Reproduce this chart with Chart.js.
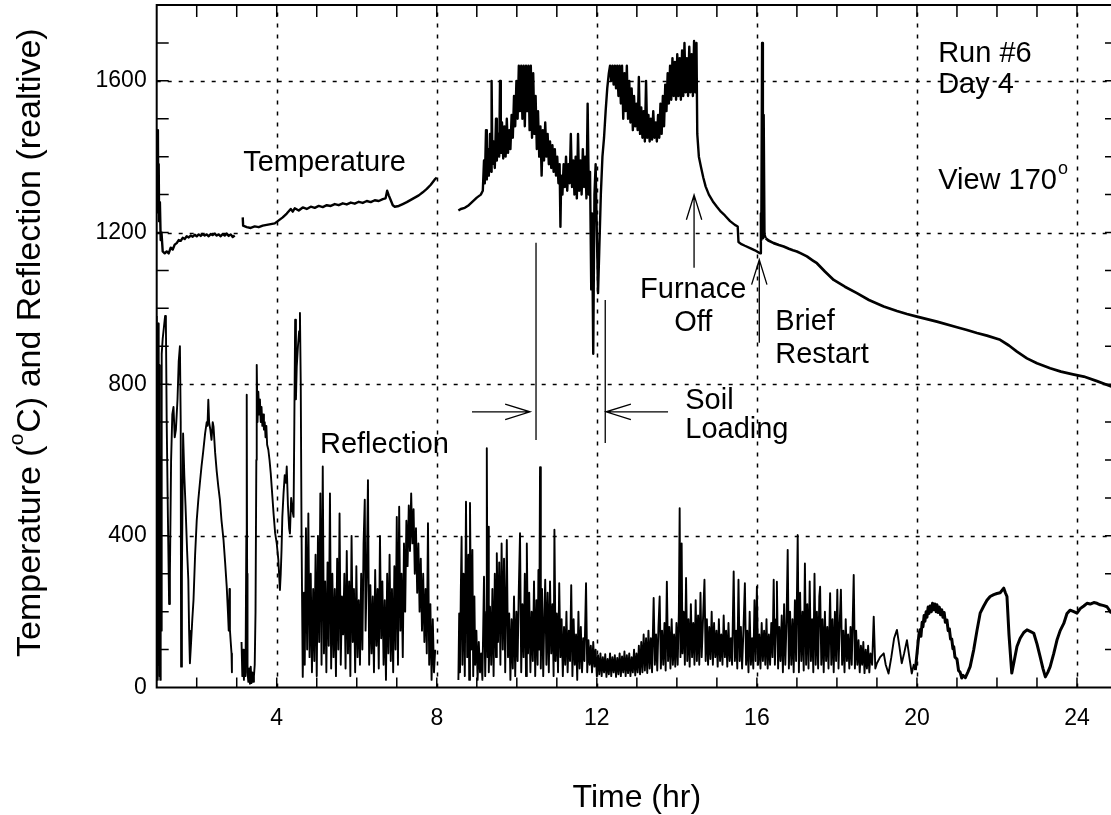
<!DOCTYPE html>
<html>
<head>
<meta charset="utf-8">
<script src="https://cdn.jsdelivr.net/npm/chart.js@4.4.0/dist/chart.umd.min.js"></script>
<style>
  html, body { margin: 0; padding: 0; background: #fff; overflow: hidden; }
  #wrap { width: 1125px; height: 815px; }
</style>
</head>
<body>
<div id="wrap"><canvas id="chart" width="1125" height="815"></canvas></div>
<script>
// Temperature trace, [hour, value] pairs
var tempSeg1 = [[1.00,1250],[1.02,1300],[1.03,1470],[1.04,1260],[1.05,1380],[1.06,1230],[1.08,1280],[1.10,1180],[1.12,1200],[1.15,1150],
  [1.20,1145],[1.25,1150],[1.30,1145],[1.35,1160],[1.40,1155],[1.45,1168],[1.50,1172],[1.55,1180],[1.60,1178],[1.65,1186],[1.70,1183],
  [1.75,1190],[1.80,1187],[1.85,1192],[1.90,1189],[1.95,1194],[2.00,1190],[2.05,1195],[2.10,1191],[2.15,1196],[2.20,1192],[2.25,1195],
  [2.30,1190],[2.35,1196],[2.40,1193],[2.45,1197],[2.50,1192],[2.55,1195],[2.60,1190],[2.65,1196],[2.70,1192],[2.75,1197],[2.80,1191],
  [2.85,1195],[2.90,1188],[2.95,1192]];

var tempSeg2 = [[3.15,1240],[3.16,1218],[3.25,1214],[3.35,1212],[3.45,1216],[3.55,1214],[3.65,1218],[3.75,1220],[3.85,1222],[3.95,1224],
  [4.05,1232],[4.15,1240],[4.25,1250],[4.35,1262],[4.40,1255],[4.45,1264],[4.55,1258],[4.65,1266],[4.75,1262],[4.85,1268],[4.95,1265],
  [5.05,1270],[5.15,1267],[5.25,1272],[5.35,1270],[5.45,1275],[5.55,1272],[5.65,1277],[5.75,1274],[5.85,1279],[5.95,1276],[6.05,1281],
  [6.15,1278],[6.25,1283],[6.35,1280],[6.45,1285],[6.55,1283],[6.65,1288],[6.72,1290],[6.76,1310],[6.80,1298],[6.85,1285],[6.90,1272],
  [6.95,1268],[7.05,1270],[7.15,1275],[7.25,1280],[7.35,1286],[7.45,1292],[7.55,1298],[7.65,1306],[7.75,1315],[7.85,1326],[7.95,1340],
  [8.00,1345]];

var tempSeg3 = [[8.54,1258],[8.60,1262],[8.70,1265],[8.80,1272],[8.90,1282],[9.00,1292],[9.10,1300],[9.15,1310],
  [9.18,1390],[9.20,1330],[9.23,1470],[9.25,1340],[9.28,1420],[9.30,1350],[9.33,1460],[9.36,1360],[9.37,1600],[9.39,1380],
  [9.42,1440],[9.45,1370],[9.48,1500],[9.50,1390],[9.53,1460],[9.56,1400],[9.58,1600],[9.60,1410],[9.63,1490],[9.66,1395],
  [9.69,1480],[9.72,1400],[9.75,1500],[9.78,1410],[9.81,1470],[9.84,1420],[9.87,1510],[9.90,1450],[9.93,1560],[9.96,1480],
  [9.99,1600],[10.02,1500],[10.05,1640],[10.08,1520],[10.11,1640],[10.14,1500],[10.17,1640],[10.20,1480],[10.23,1640],[10.26,1520],
  [10.29,1640],[10.32,1470],[10.35,1640],[10.38,1450],[10.41,1620],[10.44,1460],[10.47,1560],[10.50,1420],[10.53,1520],[10.56,1400],
  [10.59,1480],[10.62,1350],[10.65,1470],[10.68,1390],[10.71,1490],[10.74,1400],[10.77,1460],[10.80,1380],[10.83,1440],[10.86,1370],
  [10.89,1430],[10.92,1360],[10.95,1420],[10.98,1350],[11.01,1400],[11.04,1330],[11.07,1380],[11.09,1215],[11.11,1350],[11.14,1300],
  [11.17,1380],[11.20,1320],[11.23,1400],[11.26,1310],[11.29,1380],[11.32,1330],[11.35,1460],[11.38,1320],[11.41,1390],[11.44,1300],
  [11.47,1400],[11.50,1290],[11.53,1460],[11.56,1310],[11.59,1390],[11.62,1300],[11.65,1420],[11.68,1320],[11.71,1400],[11.74,1290],
  [11.77,1540],[11.80,1300],[11.83,1360],[11.86,1050],[11.88,1250],[11.91,880],[11.94,1300],[11.97,1380],[12.00,1200],[12.03,1040],
  [12.06,1150],[12.10,1300],[12.14,1400],[12.18,1450],[12.22,1520],[12.26,1580],[12.30,1620],[12.33,1640],[12.36,1600],[12.39,1640],
  [12.42,1590],[12.45,1640],[12.48,1580],[12.51,1640],[12.54,1560],[12.57,1640],[12.60,1540],[12.63,1640],[12.66,1500],[12.69,1620],
  [12.72,1520],[12.75,1640],[12.78,1500],[12.81,1600],[12.84,1490],[12.87,1580],[12.90,1470],[12.93,1560],[12.96,1480],[12.99,1540],
  [13.02,1470],[13.05,1610],[13.08,1460],[13.11,1530],[13.14,1450],[13.17,1520],[13.20,1440],[13.23,1600],[13.26,1450],[13.29,1510],
  [13.32,1440],[13.35,1500],[13.38,1445],[13.41,1520],[13.44,1450],[13.47,1490],[13.50,1440],[13.53,1510],[13.56,1450],[13.59,1540],
  [13.62,1460],[13.65,1560],[13.68,1480],[13.71,1590],[13.74,1520],[13.77,1620],[13.80,1540],[13.83,1640],[13.86,1550],[13.89,1660],
  [13.92,1560],[13.95,1650],[13.98,1550],[14.01,1670],[14.04,1560],[14.07,1660],[14.10,1550],[14.13,1680],[14.16,1560],[14.19,1700],
  [14.22,1570],[14.25,1660],[14.28,1560],[14.31,1690],[14.34,1570],[14.37,1670],[14.40,1560],[14.43,1705],[14.46,1570],[14.49,1700],
  [14.51,1460],[14.55,1400],[14.60,1374],[14.66,1345],[14.72,1321],[14.80,1300],[14.90,1282],[15.00,1268],[15.10,1255],[15.20,1245],
  [15.33,1230],[15.45,1220],[15.52,1216],[15.54,1175],[15.60,1170],[15.70,1165],[15.83,1159],[15.95,1153],[16.05,1147],[16.09,1145],
  [16.10,1250],[16.11,1180],[16.13,1700],[16.15,1185],[16.17,1510],[16.19,1195],[16.22,1185],[16.30,1178],[16.42,1172],[16.55,1167],
  [16.67,1163],[16.80,1157],[16.90,1153],[17.00,1150],[17.10,1145],[17.25,1137],[17.40,1126],[17.50,1119],[17.70,1097],[17.92,1075],
  [18.20,1057],[18.50,1040],[18.80,1022],[19.17,1005],[19.50,993],[19.75,985],[20.00,978],[20.50,965],[21.00,950],[21.25,943],
  [21.50,935],[21.75,928],[22.08,917],[22.30,902],[22.50,886],[22.75,868],[23.00,855],[23.33,842],[23.60,833],[23.90,826],
  [24.17,820],[24.50,808],[24.86,794]];

// Reflection trace, [hour, value] pairs
var reflSeg1 = [[1.00,980],[1.01,40],[1.02,900],[1.03,20],[1.04,960],[1.05,60],[1.06,850],[1.07,30],[1.08,700],[1.09,20],[1.10,600],
  [1.11,150],[1.12,500],[1.13,880],[1.15,920],[1.18,950],[1.21,980],[1.23,960],[1.25,700],[1.28,450],[1.31,220],[1.33,300],[1.36,600],
  [1.39,720],[1.42,740],[1.45,660],[1.48,680],[1.52,760],[1.55,860],[1.58,900],[1.60,700],[1.61,55],[1.63,300],[1.66,670],[1.69,560],
  [1.72,480],[1.76,360],[1.79,284],[1.81,150],[1.83,64],[1.86,120],[1.89,180],[1.92,231],[1.96,350],[2.00,440],[2.04,495],[2.08,540],
  [2.12,583],[2.16,620],[2.21,670],[2.25,700],[2.27,690],[2.29,759],[2.31,700],[2.34,680],[2.37,653],[2.40,700],[2.42,688],[2.46,620],
  [2.50,570],[2.54,530],[2.58,495],[2.62,440],[2.67,389],[2.71,330],[2.75,266],[2.78,200],[2.80,150],[2.82,260],[2.83,152],[2.85,120],
  [2.87,90],[2.88,40]];

var reflSeg2 = [[3.12,120],[3.14,30],[3.16,100],[3.18,20],[3.20,90],[3.22,30],[3.24,400],[3.25,772],[3.26,300],[3.27,40],[3.29,15],
  [3.31,50],[3.33,10],[3.35,55],[3.37,12],[3.39,40],[3.41,15],[3.43,30],[3.45,60],[3.47,200],[3.49,600],[3.50,851],[3.52,700],[3.54,780],
  [3.56,720],[3.58,760],[3.60,700],[3.62,740],[3.64,690],[3.66,720],[3.68,680],[3.70,700],[3.72,660],[3.74,690],[3.76,640],[3.79,627],
  [3.82,600],[3.85,565],[3.88,520],[3.92,460],[3.96,407],[4.00,380],[4.04,337],[4.08,257],[4.10,300],[4.12,363],[4.14,450],[4.17,512],
  [4.20,560],[4.23,540],[4.25,583],[4.28,480],[4.31,420],[4.33,406],[4.36,500],[4.39,470],[4.42,450],[4.44,700],[4.46,970],[4.48,760],
  [4.50,846],[4.53,900],[4.56,940],[4.58,988],[4.60,800],[4.62,406],[4.64,150],[4.65,28],
  [4.68,250],[4.70,60],[4.73,420],[4.76,100],[4.79,459],[4.82,80],[4.85,300],[4.88,40],[4.91,260],[4.94,70],[4.97,350],[5.00,30],
  [5.03,400],[5.06,120],[5.09,512],[5.12,60],[5.15,583],[5.18,90],[5.21,280],[5.24,40],[5.27,330],[5.30,110],[5.33,512],[5.36,50],
  [5.39,300],[5.42,80],[5.45,260],[5.48,30],[5.51,340],[5.54,100],[5.57,459],[5.60,60],[5.63,240],[5.66,140],[5.69,300],[5.72,50],
  [5.75,360],[5.78,90],[5.81,280],[5.84,30],[5.87,400],[5.90,120],[5.93,260],[5.96,40],[5.99,320],[6.02,80],[6.05,230],[6.08,60],
  [6.11,300],[6.14,100],[6.17,380],[6.20,495],[6.22,150],[6.25,300],[6.28,547],[6.31,60],[6.34,270],[6.37,90],[6.40,240],[6.43,40],
  [6.46,310],[6.49,110],[6.52,260],[6.55,50],[6.58,400],[6.61,130],[6.64,280],[6.67,60],[6.70,230],[6.73,20],[6.76,300],[6.79,90],
  [6.82,350],[6.85,70],[6.88,260],[6.91,40],[6.94,320],[6.97,100],[7.00,450],[7.03,60],[7.06,477],[7.09,150],[7.12,300],[7.15,80],
  [7.18,380],[7.21,200],[7.24,440],[7.27,320],[7.30,480],[7.33,360],[7.36,512],[7.39,380],[7.42,470],[7.45,300],[7.48,420],[7.51,250],
  [7.54,380],[7.57,200],[7.60,340],[7.63,150],[7.66,300],[7.69,120],[7.72,260],[7.75,90],[7.78,433],[7.81,60],[7.84,220],[7.87,20],
  [7.90,180],[7.93,40],[7.96,100]];

var reflSeg3 = [[8.54,20],[8.56,195],[8.58,40],[8.60,250],[8.62,398],[8.64,60],[8.67,300],[8.70,30],[8.73,490],[8.76,80],[8.79,350],
  [8.81,20],[8.83,487],[8.86,100],[8.89,363],[8.91,30],[8.94,240],[8.96,60],[8.99,150],[9.02,20],[9.05,120],[9.08,40],[9.11,90],
  [9.14,20],[9.18,292],[9.21,30],[9.24,200],[9.25,631],[9.27,80],[9.28,424],[9.30,40],[9.33,213],[9.36,60],[9.39,260],[9.42,30],
  [9.45,300],[9.48,80],[9.50,354],[9.53,120],[9.56,330],[9.59,60],[9.62,380],[9.65,100],[9.68,340],[9.71,40],[9.75,389],[9.78,80],
  [9.81,195],[9.84,20],[9.87,180],[9.90,50],[9.93,240],[9.96,30],[9.99,200],[10.02,70],[10.05,260],[10.08,407],[10.11,40],[10.14,220],
  [10.17,80],[10.20,300],[10.23,30],[10.25,380],[10.28,90],[10.31,250],[10.34,40],[10.37,200],[10.40,70],[10.43,280],[10.46,30],
  [10.49,230],[10.52,60],[10.54,310],[10.56,100],[10.58,581],[10.60,50],[10.63,260],[10.66,30],[10.69,200],[10.71,284],[10.74,60],
  [10.77,250],[10.80,40],[10.83,280],[10.86,90],[10.89,220],[10.92,30],[10.94,416],[10.97,70],[11.00,195],[11.03,40],[11.06,275],
  [11.09,80],[11.12,180],[11.15,30],[11.18,160],[11.21,60],[11.24,200],[11.27,40],[11.30,150],[11.33,70],[11.36,270],[11.39,30],
  [11.42,180],[11.45,60],[11.48,140],[11.51,20],[11.54,200],[11.57,50],[11.60,160],[11.63,40],[11.66,130],[11.69,70],[11.73,275],
  [11.76,40],[11.79,125],[11.82,60],[11.85,110],[11.88,40],[11.91,120],[11.94,55],[11.97,100],[12.00,30],[12.03,85],[12.06,35],
  [12.09,90],[12.12,30],[12.15,80],[12.18,40],[12.21,88],[12.24,28],[12.27,75],[12.30,35],[12.33,90],[12.36,30],[12.39,80],[12.42,40],
  [12.45,85],[12.48,28],[12.51,78],[12.54,35],[12.57,90],[12.60,30],[12.63,82],[12.66,40],[12.69,95],[12.72,30],[12.75,85],[12.78,38],
  [12.81,90],[12.84,30],[12.87,80],[12.90,40],[12.93,100],[12.96,32],[12.99,90],[13.02,40],[13.05,110],[13.08,35],[13.11,120],
  [13.14,40],[13.17,140],[13.20,45],[13.23,130],[13.26,38],[13.29,150],[13.32,50],[13.35,130],[13.38,40],[13.42,236],[13.45,60],
  [13.48,140],[13.51,45],[13.54,160],[13.57,240],[13.60,50],[13.63,150],[13.66,60],[13.69,170],[13.72,45],[13.75,279],[13.78,70],
  [13.81,160],[13.84,50],[13.87,180],[13.90,60],[13.93,140],[13.96,55],[13.99,170],[14.02,60],[14.05,200],[14.07,473],[14.09,80],
  [14.12,380],[14.14,90],[14.17,200],[14.20,60],[14.23,289],[14.26,70],[14.29,180],[14.32,55],[14.35,220],[14.38,80],[14.41,170],
  [14.44,60],[14.47,230],[14.50,70],[14.53,190],[14.56,60],[14.59,250],[14.62,80],[14.66,200],[14.69,284],[14.72,70],[14.75,180],
  [14.78,60],[14.81,160],[14.84,75],[14.87,200],[14.90,60],[14.93,170],[14.96,80],[14.99,150],[15.02,55],[15.05,180],[15.08,70],
  [15.11,140],[15.14,60],[15.17,190],[15.20,80],[15.23,150],[15.26,55],[15.29,170],[15.32,70],[15.35,130],[15.38,60],[15.42,306],
  [15.45,70],[15.48,150],[15.51,50],[15.54,284],[15.57,70],[15.60,160],[15.63,50],[15.66,140],[15.70,275],[15.73,60],[15.76,150],
  [15.79,40],[15.82,200],[15.85,60],[15.88,130],[15.91,50],[15.94,230],[15.97,70],[16.00,266],[16.03,60],[16.06,140],[16.09,50],
  [16.12,170],[16.15,70],[16.18,150],[16.21,60],[16.24,180],[16.27,50],[16.30,140],[16.33,60],[16.36,170],[16.39,80],[16.42,284],
  [16.45,60],[16.48,180],[16.50,279],[16.53,50],[16.56,160],[16.59,70],[16.62,190],[16.65,40],[16.68,220],[16.71,60],[16.74,170],
  [16.77,363],[16.80,50],[16.83,200],[16.86,60],[16.89,180],[16.92,40],[16.95,230],[16.98,70],[17.02,402],[17.05,40],[17.08,250],
  [17.11,70],[17.14,200],[17.17,45],[17.20,327],[17.23,60],[17.26,220],[17.29,50],[17.32,280],[17.35,70],[17.38,180],[17.41,40],
  [17.44,300],[17.47,60],[17.50,200],[17.53,50],[17.56,240],[17.58,266],[17.61,60],[17.64,180],[17.67,40],[17.70,200],[17.73,70],
  [17.76,160],[17.79,50],[17.83,249],[17.86,60],[17.89,180],[17.92,40],[17.95,200],[17.98,70],[18.01,258],[18.04,50],[18.07,170],
  [18.10,258],[18.13,60],[18.16,150],[18.19,40],[18.22,180],[18.25,70],[18.28,140],[18.31,50],[18.34,160],[18.37,60],[18.42,297],
  [18.45,50],[18.48,150],[18.51,60],[18.54,125],[18.57,40],[18.60,110],[18.63,60],[18.66,120],[18.69,38],[18.72,100],[18.75,50],
  [18.78,110],[18.81,40],[18.84,90],[18.88,60],[18.92,187],[18.96,50],[19.00,64],[19.08,80],[19.17,90],[19.22,60],[19.29,37],
  [19.36,80],[19.43,130],[19.50,152],[19.56,110],[19.62,64],[19.68,90],[19.75,125],[19.81,80],[19.87,37],[19.92,60],[19.96,46],
  [20.02,110],[20.05,140],[20.08,152],[20.10,135],[20.13,172],[20.15,160],[20.18,190],[20.20,175],[20.23,200],[20.25,185],[20.28,212],
  [20.30,195],[20.33,215],[20.36,200],[20.39,222],[20.42,205],[20.45,220],[20.48,200],[20.50,218],[20.53,198],[20.56,212],[20.59,192],
  [20.62,205],[20.65,185],[20.68,198],[20.71,172],[20.75,178],[20.78,150],[20.81,155],[20.84,128],[20.87,128],[20.90,102],[20.92,108],
  [20.95,80],[21.00,75],[21.04,45],[21.08,40],[21.12,25],[21.15,32],[21.21,26],[21.27,40],[21.33,55],
  [21.42,100],[21.50,150],[21.58,196],[21.67,215],[21.75,230],[21.83,240],[21.92,245],[22.00,248],[22.08,250],[22.17,262],[22.21,250],
  [22.25,240],[22.30,140],[22.37,38],[22.43,70],[22.50,108],[22.58,130],[22.67,145],[22.75,152],[22.83,148],[22.92,143],[23.00,115],
  [23.08,81],[23.15,50],[23.21,28],[23.27,40],[23.33,55],[23.42,90],[23.50,125],[23.58,150],[23.67,169],[23.75,195],[23.83,204],
  [23.92,200],[24.00,196],[24.08,208],[24.17,215],[24.25,222],[24.33,220],[24.42,224],[24.50,222],[24.58,218],[24.67,216],[24.75,213],
  [24.86,196]];

var xTicks = [4, 8, 12, 16, 20, 24];
var yTicks = [0, 400, 800, 1200, 1600];

var FONT = "'Liberation Sans', Arial, Helvetica, sans-serif";

// text notes in data units
var notes = [
  { text: 'Temperature', x: 3.16, y: 1384, align: 'left' },
  { text: 'Reflection', x: 5.08, y: 640, align: 'left' },
  { text: 'Soil', x: 14.21, y: 756, align: 'left' },
  { text: 'Loading', x: 14.21, y: 678, align: 'left' },
  { text: 'Furnace', x: 14.41, y: 1049, align: 'center' },
  { text: 'Off', x: 14.41, y: 962, align: 'center' },
  { text: 'Brief', x: 16.46, y: 964, align: 'left' },
  { text: 'Restart', x: 16.46, y: 877, align: 'left' },
  { text: 'Run #6', x: 20.53, y: 1672, align: 'left' },
  { text: 'Day 4', x: 20.53, y: 1590, align: 'left' },
  { text: 'View 170', sup: 'o', x: 20.53, y: 1336, align: 'left' }
];

// arrows: from (x1,y1) to tip (x2,y2), data units
var arrows = [
  { x1: 14.43, y1: 1107, x2: 14.43, y2: 1299 },
  { x1: 16.06, y1: 909, x2: 16.06, y2: 1128 },
  { x1: 8.88, y1: 727, x2: 10.33, y2: 727 },
  { x1: 13.78, y1: 727, x2: 12.23, y2: 727 }
];
var markers = [
  { x: 10.48, y1: 653, y2: 1173 },
  { x: 12.21, y1: 645, y2: 1022 }
];

function joinSegments(segs) {
  var out = [];
  segs.forEach(function (seg, i) {
    if (i > 0) out.push({ x: seg[0][0] - 0.01, y: null });
    seg.forEach(function (p) { out.push({ x: p[0], y: p[1] }); });
  });
  return out;
}

function drawSupText(ctx, text, sup, x, y, size) {
  ctx.font = size + 'px ' + FONT;
  ctx.fillText(text, x, y);
  var w = ctx.measureText(text).width;
  if (sup) {
    ctx.font = Math.round(size * 0.62) + 'px ' + FONT;
    ctx.fillText(sup, x + w + 1, y - size * 0.42);
  }
}

function noPad(s) {
  s.paddingTop = 0; s.paddingBottom = 0; s.paddingLeft = 0; s.paddingRight = 0;
}

var decorPlugin = {
  id: 'decor',
  beforeDatasetsDraw: function (chart) {
    var ctx = chart.ctx, a = chart.chartArea;
    var xs = chart.scales.x, ys = chart.scales.y;
    ctx.save();
    ctx.strokeStyle = '#000';
    ctx.lineWidth = 1.5;
    ctx.setLineDash([4, 7]);
    xTicks.forEach(function (v) {
      var px = Math.round(xs.getPixelForValue(v)) + 0.5;
      ctx.beginPath(); ctx.moveTo(px, a.bottom); ctx.lineTo(px, a.top); ctx.stroke();
    });
    yTicks.forEach(function (v) {
      if (v === 0) return;
      var py = Math.round(ys.getPixelForValue(v)) + 0.5;
      ctx.beginPath(); ctx.moveTo(a.left, py); ctx.lineTo(a.right, py); ctx.stroke();
    });
    ctx.restore();
  },
  afterDatasetsDraw: function (chart) {
    var ctx = chart.ctx, a = chart.chartArea;
    var xs = chart.scales.x, ys = chart.scales.y;
    ctx.save();
    ctx.strokeStyle = '#000';
    ctx.lineWidth = 2;
    ctx.strokeRect(a.left, a.top, a.right - a.left, a.bottom - a.top);

    // inward minor ticks
    ctx.lineWidth = 1.5;
    ctx.beginPath();
    for (var h = 2; h < 25; h++) {
      var px = xs.getPixelForValue(h);
      ctx.moveTo(px, a.bottom); ctx.lineTo(px, a.bottom - 10);
      ctx.moveTo(px, a.top); ctx.lineTo(px, a.top + 12);
    }
    for (var v = 100; v < 1800; v += 100) {
      var py = ys.getPixelForValue(v);
      ctx.moveTo(a.left, py); ctx.lineTo(a.left + 12, py);
      ctx.moveTo(a.right, py); ctx.lineTo(a.right - 12, py);
    }
    ctx.stroke();

    // markers and arrows
    ctx.lineWidth = 1.3;
    markers.forEach(function (m) {
      var px = xs.getPixelForValue(m.x);
      ctx.beginPath();
      ctx.moveTo(px, ys.getPixelForValue(m.y1));
      ctx.lineTo(px, ys.getPixelForValue(m.y2));
      ctx.stroke();
    });
    arrows.forEach(function (ar) {
      var x1 = xs.getPixelForValue(ar.x1), y1 = ys.getPixelForValue(ar.y1);
      var x2 = xs.getPixelForValue(ar.x2), y2 = ys.getPixelForValue(ar.y2);
      var ang = Math.atan2(y2 - y1, x2 - x1);
      var len = 26, spread = 0.3;
      ctx.beginPath();
      ctx.moveTo(x1, y1); ctx.lineTo(x2, y2);
      ctx.moveTo(x2 - len * Math.cos(ang - spread), y2 - len * Math.sin(ang - spread));
      ctx.lineTo(x2, y2);
      ctx.lineTo(x2 - len * Math.cos(ang + spread), y2 - len * Math.sin(ang + spread));
      ctx.stroke();
    });

    // notes
    ctx.fillStyle = '#000';
    ctx.textBaseline = 'middle';
    notes.forEach(function (n) {
      ctx.textAlign = n.align;
      drawSupText(ctx, n.text, n.sup, xs.getPixelForValue(n.x), ys.getPixelForValue(n.y), 29);
    });

    // axis titles
    ctx.textAlign = 'center';
    ctx.font = '32px ' + FONT;
    ctx.fillText('Time (hr)', (a.left + a.right) / 2, 798);

    ctx.translate(31, 657);
    ctx.rotate(-Math.PI / 2);
    ctx.textAlign = 'left';
    var t1 = 'Temperature (', t2 = 'C) and Reflection (realtive)';
    ctx.font = '34px ' + FONT;
    ctx.fillText(t1, 0, 0);
    var w1 = ctx.measureText(t1).width;
    ctx.font = '21px ' + FONT;
    ctx.fillText('o', w1, -14);
    var w2 = ctx.measureText('o').width;
    ctx.font = '34px ' + FONT;
    ctx.fillText(t2, w1 + w2 + 1, 0);
    ctx.restore();
  }
};

new Chart(document.getElementById('chart'), {
  type: 'line',
  data: {
    datasets: [
      {
        label: 'Temperature',
        data: joinSegments([tempSeg1, tempSeg2, tempSeg3]),
        borderColor: '#000',
        borderWidth: 2.5,
        pointRadius: 0,
        tension: 0,
        borderJoinStyle: 'round',
        spanGaps: false,
        segment: { borderWidth: function (c) { return c.p0.parsed.x >= 16.2 ? 2.7 : 2.4; } }
      },
      {
        label: 'Reflection',
        data: joinSegments([reflSeg1, reflSeg2, reflSeg3]),
        borderColor: '#000',
        borderWidth: 1.9,
        pointRadius: 0,
        tension: 0,
        borderJoinStyle: 'round',
        spanGaps: false,
        segment: { borderWidth: function (c) { return c.p0.parsed.x >= 19.95 ? 3 : 1.9; } }
      }
    ]
  },
  options: {
    responsive: false,
    animation: false,
    events: [],
    layout: { padding: { left: 0, top: 5, right: 8, bottom: 0 } },
    plugins: { legend: { display: false }, tooltip: { enabled: false } },
    scales: {
      x: {
        type: 'linear',
        min: 1,
        max: 25,
        bounds: 'data',
        grid: { display: false },
        border: { display: false },
        afterBuildTicks: function (s) { s.ticks = xTicks.map(function (v) { return { value: v }; }); },
        afterFit: function (s) { s.height = 127.5; noPad(s); },
        ticks: {
          color: '#000', padding: 9, maxRotation: 0, autoSkip: false,
          font: { family: FONT, size: 23 },
          callback: function (v) { return String(v); }
        }
      },
      y: {
        type: 'linear',
        min: 0,
        max: 1800,
        bounds: 'data',
        grid: { display: false },
        border: { display: false },
        afterBuildTicks: function (s) { s.ticks = yTicks.map(function (v) { return { value: v }; }); },
        afterFit: function (s) { s.width = 156.7; noPad(s); },
        ticks: {
          color: '#000', padding: 2,
          font: { family: FONT, size: 23 },
          callback: function (v) { return String(v); }
        }
      }
    }
  },
  plugins: [decorPlugin]
});
</script>
</body>
</html>
